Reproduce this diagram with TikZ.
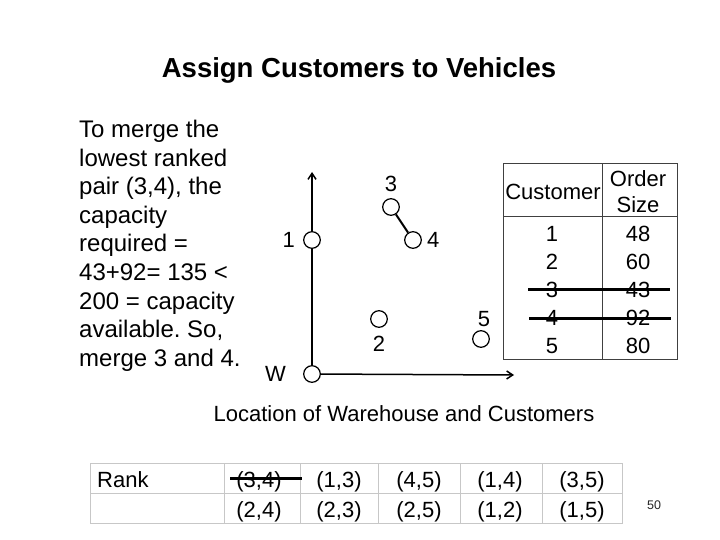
\documentclass[tikz,border=0pt]{standalone}
\usepackage{fontspec}
\setmainfont{Liberation Sans}
\usepackage{tikz}
\usetikzlibrary{arrows.meta,positioning,backgrounds}
\frenchspacing

\begin{document}
\begin{tikzpicture}[
  x=1pt, y=-1pt,
  cust/.style={circle, draw, line width=1.2pt, fill=white, minimum size=16.6pt, inner sep=0pt},
  lbl/.style={inner sep=0pt, font=\fontsize{22}{26}\selectfont},
  cell/.style={inner sep=0pt, anchor=base, font=\fontsize{22}{26}\selectfont},
  axis/.style={-{Straight Barb[length=6pt,width=8pt]}, line width=1.5pt},
  strike/.style={line width=3pt},
  tabline/.style={draw=black!75, line width=1pt},
  rankline/.style={draw=black!22, line width=1pt}
]
\useasboundingbox (0,0) rectangle (720,540);

% title and note
\node[anchor=base, inner sep=0pt, font=\bfseries\fontsize{27.5}{32}\selectfont] (title) at (359,78) {Assign Customers to Vehicles};
\node[anchor=north west, inner sep=0pt, align=left, font=\fontsize{24}{28.6}\selectfont] (note) at (79,120)
  {To merge the\\lowest ranked\\pair (3,4), the\\capacity\\required =\\43+92= 135 <\\200 = capacity\\available. So,\\merge 3 and 4.};

% location plot
\node[cust] (W) at (312,374) {};
\node[cust] (c1) at (312,240) {};
\node[cust] (c2) at (379,319) {};
\node[cust] (c3) at (391,207) {};
\node[cust] (c4) at (413,240) {};
\node[cust] (c5) at (481,339) {};
\coordinate (ytip) at (312,172);
\coordinate (xtip) at (514,375);
\node[lbl, left=17pt of W] (lW) {W};
\node[lbl, left=8pt of c1] (l1) {1};
\node[lbl, below=8pt of c2] (l2) {2};
\node[lbl, above=6pt of c3] (l3) {3};
\node[lbl, right=5pt of c4] (l4) {4};
\node[lbl, above=3pt of c5, xshift=3pt] (l5) {5};
\begin{scope}[on background layer]
\fill[white] (0,0) rectangle (720,540);
\draw[axis] (W) -- (ytip);
\draw[axis] (W) -- (xtip);
\end{scope}
\draw[line width=2pt] (c3) -- (c4);
\node[cell] (caption) at (404,421) {Location of Warehouse and Customers};

% order table
\draw[tabline] (503,164) rectangle (677,359);
\draw[tabline] (602,164) -- (602,359);
\draw[tabline] (503,217) -- (677,217);
\node[cell] (hcust) at (553,200) {Customer};
\node[cell] (horder) at (638,187) {Order};
\node[cell] (hsize) at (638,212) {Size};
\node[cell] (n1) at (552,241) {1};  \node[cell] (q1) at (638,241) {48};
\node[cell] (n2) at (552,269) {2};  \node[cell] (q2) at (638,269) {60};
\node[cell] (n3) at (552,297) {3};  \node[cell] (q3) at (638,297) {43};
\node[cell] (n4) at (552,325) {4};  \node[cell] (q4) at (638,325) {92};
\node[cell] (n5) at (552,353) {5};  \node[cell] (q5) at (638,353) {80};
\draw[strike] (528,289) -- (670,289);
\draw[strike] (529,318) -- (671,318);

% rank table
\draw[rankline] (90,463) rectangle (622,523);
\draw[rankline] (90,493) -- (622,493);
\foreach \cx in {224,300,378,460,542}
  \draw[rankline] (\cx,463) -- (\cx,523);
\node[cell, anchor=base west] (rank) at (97,487) {Rank};
\node[cell] (r1) at (259,487) {(3,4)};   \node[cell] (s1) at (259,517) {(2,4)};
\node[cell] (r2) at (339,487) {(1,3)};   \node[cell] (s2) at (339,517) {(2,3)};
\node[cell] (r3) at (419,487) {(4,5)};   \node[cell] (s3) at (419,517) {(2,5)};
\node[cell] (r4) at (500,487) {(1,4)};   \node[cell] (s4) at (500,517) {(1,2)};
\node[cell] (r5) at (582,487) {(3,5)};   \node[cell] (s5) at (582,517) {(1,5)};
\draw[strike] (230,478) -- (302,478);

\node[font=\fontsize{12.5}{14}\selectfont, text=black!85] (page) at (654,505) {50};
\end{tikzpicture}
\end{document}
